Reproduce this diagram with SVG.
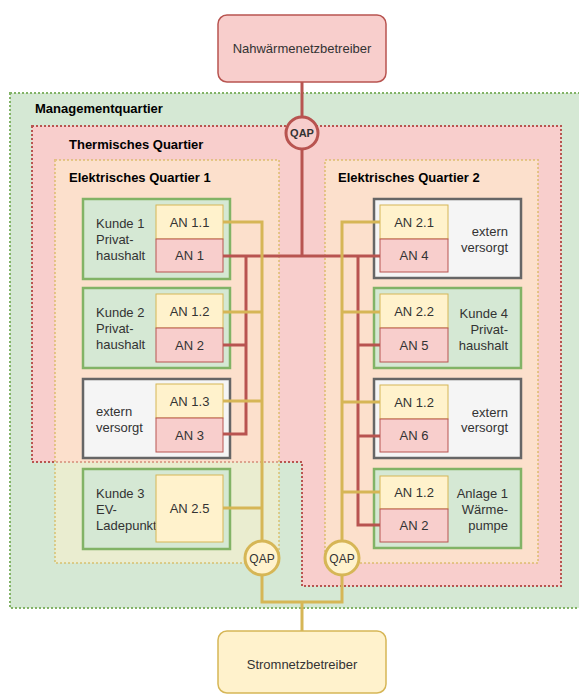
<svg xmlns="http://www.w3.org/2000/svg" width="579" height="694" viewBox="0 0 579 694">
<style>
text{font-family:"Liberation Sans",Arial,sans-serif;font-size:13px;fill:#333333}
.lbl{font-weight:bold;fill:#000000}
.r{text-anchor:end}
.c{text-anchor:middle}
.green{fill:#d5e8d4;stroke:#82b366;stroke-width:2.5}
.gray{fill:#f5f5f5;stroke:#666666;stroke-width:2.5}
.yel{fill:#fff2cc;stroke:#d6b656;stroke-width:1}
.red{fill:#f8cecc;stroke:#b85450;stroke-width:1}
.dot{stroke-width:2;stroke-dasharray:2 2}
.ry{fill:none;stroke:#d6b656;stroke-width:3}
.rr{fill:none;stroke:#b85450;stroke-width:3}
.qap{font-size:12px}
</style>
<rect width="579" height="694" fill="#ffffff"/>
<g id="managementquartier">
<rect x="10" y="93" width="580" height="515" fill="#d5e8d4" stroke="#82b366" class="dot"/>
<text x="35" y="112.5" class="lbl">Managementquartier</text>
</g>
<g id="thermisches-quartier">
<polygon points="32,126 561,126 561,586 302,586 302,462 32,462" fill="#f8cecc" stroke="#b85450" class="dot"/>
<text x="69" y="148.5" class="lbl">Thermisches Quartier</text>
</g>
<g id="elektrisches-quartier-1">
<rect x="55" y="160" width="224" height="403" fill="#fff2cc" fill-opacity="0.5" stroke="#d6b656" stroke-opacity="0.6" class="dot"/>
<text x="69" y="182" class="lbl">Elektrisches Quartier 1</text>
</g>
<g id="elektrisches-quartier-2">
<rect x="325" y="160" width="213" height="403" fill="#fff2cc" fill-opacity="0.5" stroke="#d6b656" stroke-opacity="0.6" class="dot"/>
<text x="338" y="182" class="lbl">Elektrisches Quartier 2</text>
</g>
<g id="nahwaermenetzbetreiber">
<rect x="218" y="15" width="168" height="67" rx="9" fill="#f8cecc" stroke="#b85450" stroke-width="1.5"/>
<text x="302" y="53" class="c">Nahwärmenetzbetreiber</text>
</g>
<g id="stromnetzbetreiber">
<rect x="218" y="631" width="168" height="62" rx="9" fill="#fff2cc" stroke="#d6b656" stroke-width="1.5"/>
<text x="302" y="669" class="c">Stromnetzbetreiber</text>
</g>
<g id="kunde1">
<rect x="83" y="199" width="147" height="80" class="green"/>
<text x="96" y="227.5">Kunde 1</text><text x="96" y="243.5">Privat-</text><text x="96" y="259.5">haushalt</text>
<rect x="156" y="205" width="67" height="34" class="yel"/><text x="189.5" y="226.5" class="c">AN 1.1</text>
<rect x="156" y="239" width="67" height="33" class="red"/><text x="189.5" y="260" class="c">AN 1</text>
</g>
<g id="kunde2">
<rect x="83" y="288" width="147" height="80" class="green"/>
<text x="96" y="316.5">Kunde 2</text><text x="96" y="332.5">Privat-</text><text x="96" y="348.5">haushalt</text>
<rect x="156" y="294" width="67" height="34" class="yel"/><text x="189.5" y="315.5" class="c">AN 1.2</text>
<rect x="156" y="328" width="67" height="34" class="red"/><text x="189.5" y="349.5" class="c">AN 2</text>
</g>
<g id="extern1">
<rect x="83" y="379" width="147" height="79" class="gray"/>
<text x="96" y="415.5">extern</text><text x="96" y="431.5">versorgt</text>
<rect x="156" y="384" width="67" height="34" class="yel"/><text x="189.5" y="405.5" class="c">AN 1.3</text>
<rect x="156" y="418" width="67" height="34" class="red"/><text x="189.5" y="439.5" class="c">AN 3</text>
</g>
<g id="kunde3">
<rect x="83" y="469" width="147" height="80" class="green"/>
<text x="96" y="497.5">Kunde 3</text><text x="96" y="513.5">EV-</text><text x="96" y="529.5">Ladepunkt</text>
<rect x="156" y="475" width="67" height="67" class="yel"/><text x="189.5" y="513" class="c">AN 2.5</text>
</g>
<g id="extern2">
<rect x="374" y="199" width="147" height="79" class="gray"/>
<text x="508" y="235.5" class="r">extern</text><text x="508" y="251.5" class="r">versorgt</text>
<rect x="380" y="205" width="68" height="34" class="yel"/><text x="414" y="226.5" class="c">AN 2.1</text>
<rect x="380" y="239" width="68" height="33" class="red"/><text x="414" y="260" class="c">AN 4</text>
</g>
<g id="kunde4">
<rect x="374" y="288" width="147" height="80" class="green"/>
<text x="508" y="317.5" class="r">Kunde 4</text><text x="508" y="333.5" class="r">Privat-</text><text x="508" y="349.5" class="r">haushalt</text>
<rect x="380" y="294" width="68" height="34" class="yel"/><text x="414" y="315.5" class="c">AN 2.2</text>
<rect x="380" y="328" width="68" height="34" class="red"/><text x="414" y="349.5" class="c">AN 5</text>
</g>
<g id="extern3">
<rect x="374" y="379" width="147" height="79" class="gray"/>
<text x="508" y="416.5" class="r">extern</text><text x="508" y="432" class="r">versorgt</text>
<rect x="380" y="385" width="68" height="34" class="yel"/><text x="414" y="406.5" class="c">AN 1.2</text>
<rect x="380" y="419" width="68" height="33" class="red"/><text x="414" y="440" class="c">AN 6</text>
</g>
<g id="anlage1">
<rect x="374" y="469" width="147" height="79" class="green"/>
<text x="508" y="497.5" class="r">Anlage 1</text><text x="508" y="513.5" class="r">Wärme-</text><text x="508" y="529.5" class="r">pumpe</text>
<rect x="380" y="476" width="68" height="33" class="yel"/><text x="414" y="497" class="c">AN 1.2</text>
<rect x="380" y="509" width="68" height="33" class="red"/><text x="414" y="530" class="c">AN 2</text>
</g>
<g id="connectors">
<path class="rr" d="M302,82 V117 M302,149 V256 M223,256 H380"/>
<path class="rr" d="M223,434 H246 V256 M223,345 H246"/>
<path class="rr" d="M380,525 H358 V256 M380,345 H358 M380,436 H358"/>
<path class="ry" d="M223,222 H262 V541 M223,312 H262 M223,401 H262 M223,508 H262"/>
<path class="ry" d="M380,222 H342 V541 M380,312 H342 M380,402 H342 M380,492 H342"/>
<path class="ry" d="M262,575 V602 H342 V575 M302,602 V631"/>
</g>
<g id="qap-waerme">
<circle cx="302" cy="133" r="16" fill="#f8cecc" stroke="#b85450" stroke-width="3"/>
<text x="302" y="137" class="c lbl" style="font-size:11px;fill:#333333">QAP</text>
</g>
<g id="qap-strom-1">
<circle cx="262" cy="558" r="17" fill="#fff2cc" stroke="#d6b656" stroke-width="3"/>
<text x="262" y="562.5" class="c qap">QAP</text>
</g>
<g id="qap-strom-2">
<circle cx="342" cy="558" r="17" fill="#fff2cc" stroke="#d6b656" stroke-width="3"/>
<text x="342" y="562.5" class="c qap">QAP</text>
</g>
</svg>
